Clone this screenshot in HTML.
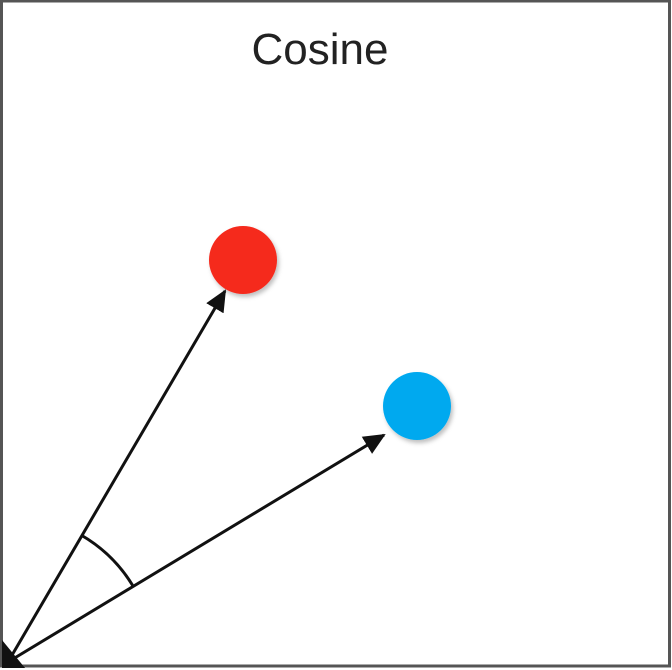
<!DOCTYPE html>
<html><head><meta charset="utf-8"><style>
html,body{margin:0;padding:0;background:#fff;}
svg{display:block;}
</style></head><body>
<svg width="672" height="670" viewBox="0 0 672 670">
<defs>
<marker id="ah" markerWidth="22" markerHeight="20" refX="20" refY="10" orient="auto" markerUnits="userSpaceOnUse" viewBox="0 0 22 20">
<path d="M0,0 L22,10 L0,20 z" fill="#111"/>
</marker>
<filter id="sh" x="-30%" y="-30%" width="160%" height="160%"><feDropShadow dx="2" dy="3" stdDeviation="2" flood-opacity="0.25"/></filter>
</defs>
<rect x="1.5" y="1" width="668" height="665" fill="#fff" stroke="#555" stroke-width="3"/>
<text x="320" y="64" text-anchor="middle" font-family="Liberation Sans, sans-serif" font-size="44" fill="#222">Cosine</text>
<circle cx="243" cy="260" r="34" fill="#f5291f" filter="url(#sh)"/>
<circle cx="417" cy="406" r="34" fill="#06a9ef" filter="url(#sh)"/>
<g stroke="#111" stroke-width="3" fill="none">
<line x1="8" y1="662" x2="225" y2="291" marker-end="url(#ah)"/>
<line x1="8" y1="662" x2="384" y2="435" marker-end="url(#ah)"/>
<path d="M81,535 A146,146 0 0 1 133,586"/>
</g>
<path d="M2,668 L2,640 L25,668 z" fill="#111"/>
</svg>
</body></html>
